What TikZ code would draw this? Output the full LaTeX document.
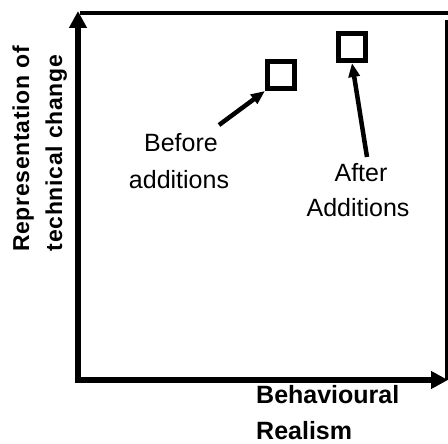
\documentclass[tikz,border=0pt]{standalone}
\usepackage{fontspec}
\setmainfont{Liberation Sans}
\newfontfamily\axisfont[LetterSpace=3]{Liberation Sans}
\usetikzlibrary{arrows.meta}
\begin{document}
\begin{tikzpicture}[x=1pt,y=-1pt,
  axisline/.style={line width=5.5pt,-{Triangle[length=17pt,width=17pt]}},
  framebox/.style={draw,line width=5pt,minimum size=27pt,inner sep=0pt},
  pointer/.style={line width=4.5pt,-{Triangle[length=14pt,width=11pt]}},
  lbl/.style={inner sep=0pt,font=\fontsize{25}{30}\selectfont},
  ylbl/.style={inner sep=0pt,rotate=90,anchor=base,font=\axisfont\bfseries\fontsize{23}{28}\selectfont},
  xlbl/.style={inner sep=0pt,anchor=base west,font=\bfseries\fontsize{25}{30}\selectfont}]
\useasboundingbox (0,0) rectangle (448,444);
\fill[white] (0,0) rectangle (448,444);
% axes
\coordinate (O) at (78,380);
\coordinate (ytip) at (78,11);
\coordinate (xtip) at (448,380);
\coordinate (tl) at (80,13);
\coordinate (tr) at (448,13);
\coordinate (rt) at (446,20);
\coordinate (rb) at (446,380);
\draw[line width=3.5pt] (tl) -- (tr);
\draw[line width=3pt] (rt) -- (rb);
\draw[axisline] (O) -- (ytip);
\draw[axisline] ([xshift=-2.75pt]O) -- (xtip);
% axis labels
\node[ylbl] (rep) at (29,149) {Representation of};
\node[ylbl] (tech) at (62,153) {technical change};
\node[xlbl] (beh) at (256,403) {Behavioural};
\node[xlbl] (real) at (256,439) {Realism};
% boxes
\node[framebox] (box1) at (281,75) {};
\node[framebox] (box2) at (352,47) {};
% labels
\node[lbl,anchor=base] (bef) at (181,152) {Before};
\node[lbl,anchor=base] (add1) at (179,189) {additions};
\node[lbl,anchor=base] (aft) at (361,182) {After};
\node[lbl,anchor=base] (add2) at (358,217) {Additions};
% pointers
\coordinate (b0) at (219,125);
\coordinate (a0) at (367,157);
\draw[pointer] (b0) -- (box1.south west);
\draw[pointer] (a0) -- (box2.south);
\end{tikzpicture}
\end{document}
